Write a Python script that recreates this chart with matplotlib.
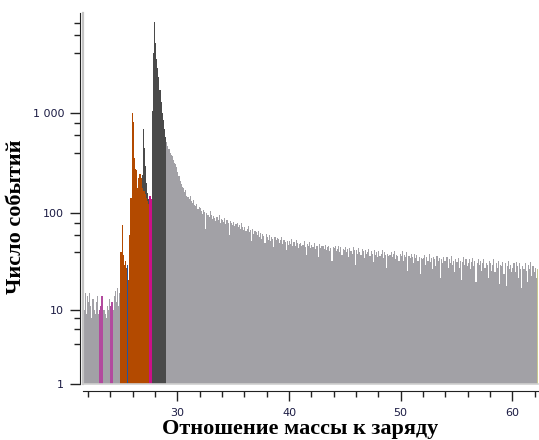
import numpy as np
import matplotlib.pyplot as plt

# mass spectrum, bins of 0.1 starting at m/z 21.6
mz_start = 21.6
bin_width = 0.1
counts = [
    10, 15, 9, 14,                                         # 21.6 - 21.9
    12, 15, 11, 8, 13, 10, 9, 12, 14, 9,                   # 22
    10, 11, 14, 10, 10, 9, 8, 11, 10, 13,                  # 23
    11, 12, 10, 14, 16, 12, 17, 11, 15, 40,                # 24
    76, 38, 30, 33, 28, 30, 21, 60, 143, 1000,             # 25
    810, 360, 280, 268, 180, 228, 250, 228, 240, 690,      # 26
    450, 300, 200, 160, 140, 150, 140, 1050, 4000, 8100,   # 27
    5000, 3500, 2800, 2300, 1700, 1300, 1000, 850, 700, 580,  # 28
    520, 470, 440, 400, 380, 370, 340, 320, 310, 290,      # 29
    260, 235, 210, 195, 185, 178, 165, 170, 150, 145,      # 30
    140, 148, 132, 128, 135, 120, 118, 125, 110, 115,      # 31
    112, 105, 98, 108, 102, 70, 100, 95, 92, 104,          # 32
    96, 88, 94, 90, 84, 92, 86, 95, 80, 88,                # 33
    85, 82, 90, 78, 86, 80, 60, 84, 79, 76,                # 34
    82, 74, 78, 80, 72, 76, 70, 79, 73, 68,                # 35
    72, 66, 70, 74, 64, 68, 52, 70, 62, 66,                # 36
    64, 60, 66, 58, 63, 55, 61, 59, 50, 62,                # 37
    58, 54, 60, 52, 57, 55, 45, 58, 53, 56,                # 38
    55, 50, 53, 57, 49, 54, 51, 42, 52, 48,                # 39
    52, 49, 55, 47, 51, 46, 53, 50, 44, 49,                # 40
    50, 46, 48, 52, 45, 38, 49, 47, 51, 44,                # 41
    48, 45, 50, 43, 47, 46, 36, 49, 44, 46,                # 42
    46, 43, 48, 42, 45, 47, 41, 44, 33, 45,                # 43
    44, 47, 41, 43, 46, 40, 45, 38, 43, 42,                # 44
    45, 40, 43, 36, 44, 41, 39, 45, 42, 30,                # 45
    42, 39, 44, 40, 38, 43, 41, 35, 42, 39,                # 46
    40, 43, 37, 41, 39, 32, 42, 38, 40, 36,                # 47
    41, 37, 39, 42, 35, 40, 38, 28, 39, 37,                # 48
    38, 40, 36, 39, 41, 34, 38, 37, 33, 39,                # 49
    37, 41, 33, 38, 36, 40, 26, 37, 35, 39,                # 50
    36, 31, 39, 35, 38, 33, 36, 24, 35, 34,                # 51
    35, 38, 30, 36, 33, 39, 32, 35, 27, 36,                # 52
    34, 29, 37, 33, 35, 22, 34, 31, 36, 33,                # 53
    33, 36, 28, 34, 31, 37, 30, 33, 25, 34,                # 54
    32, 35, 28, 33, 21, 32, 36, 30, 34, 29,                # 55
    31, 34, 27, 32, 35, 29, 33, 20, 31, 34,                # 56
    30, 33, 26, 31, 34, 28, 31, 30, 22, 33,                # 57
    31, 26, 30, 34, 25, 31, 28, 33, 19, 30,                # 58
    29, 32, 24, 31, 18, 29, 33, 27, 30, 25,                # 59
    28, 31, 25, 32, 29, 22, 31, 27, 17, 29,                # 60
    27, 31, 26, 20, 30, 27, 32, 23, 29, 25,                # 61
    28, 22, 27,                                            # 62.0 - 62.2
]

# orange ion range has its own counts (24.9 - 27.4)
orange_start = 24.9
orange_counts = [40, 76, 38, 30, 33, 28, 30, 21, 60, 143, 1000, 810, 360,
                 280, 268, 180, 228, 250, 228, 180, 168, 168, 157, 143, 133, 123]

# ranges (m/z from, to) drawn with the total counts
dark_ranges = [(26.8, 27.5), (27.7, 29.0)]
blue_ranges = [(25.5, 25.6)]
magenta_ranges = [(23.0, 23.3), (24.0, 24.2)]
pink_ranges = [(27.5, 27.7)]
olive_ranges = [(62.2, 62.3)]

y_ticks = [1, 10, 100, 1000]
y_ticklabels = ['1', '10', '100', '1 000']
y_minor = [4, 6, 8, 40, 60, 80, 400, 600, 800, 4000, 6000, 8000]
x_ticks = [30, 40, 50, 60]
x_minor = [22, 24, 26, 28, 32, 34, 36, 38, 42, 44, 46, 48, 52, 54, 56, 58, 62]

counts = np.array(counts, dtype=float)
edges = mz_start + bin_width * np.arange(len(counts) + 1)


def idx(mz):
    return int(round((mz - mz_start) / bin_width))


def draw_ranges(ax, ranges, color):
    for a, b in ranges:
        i, j = idx(a), idx(b)
        ax.stairs(counts[i:j], edges[i:j + 1], fill=True, baseline=1,
                  color=color, lw=0)


fig = plt.figure(figsize=(5.39, 4.40), dpi=100)
ax = fig.add_axes([83 / 539, 56 / 440, 455 / 539, 371 / 440])
ax.set_yscale('function', functions=(lambda v: np.log10(1 + np.clip(v, 0, None)),
                                     lambda v: 10 ** v - 1))

ax.stairs(counts, edges, fill=True, baseline=1, color='#a2a1a6', lw=0)
draw_ranges(ax, dark_ranges, '#4a4a4a')
oi = idx(orange_start)
ax.stairs(orange_counts, edges[oi:oi + len(orange_counts) + 1], fill=True,
          baseline=1, color='#b34a00', lw=0)
draw_ranges(ax, blue_ranges, '#2055a0')
draw_ranges(ax, magenta_ranges, '#b24a9e')
draw_ranges(ax, pink_ranges, '#cc1088')
draw_ranges(ax, olive_ranges, '#c8c890')

ax.set_xlim(21.55, 62.3)
ax.set_ylim(1, 10000)

# light frame of the plot area
ax.plot([0, 0], [0, 1], transform=ax.transAxes, color='#c4c4c4', lw=1.6, clip_on=False)
ax.plot([0, 1], [0, 0], transform=ax.transAxes, color='#d0d0d0', lw=1.2, clip_on=False)

for s in ['top', 'right']:
    ax.spines[s].set_visible(False)
ax.spines['left'].set_position(('outward', 2.5))
ax.spines['bottom'].set_position(('outward', 5))
ax.spines['left'].set_color('#222222')
ax.spines['bottom'].set_color('#222222')

ax.set_yticks(y_ticks)
ax.set_yticklabels(y_ticklabels)
ax.set_yticks(y_minor, minor=True)
ax.set_xticks(x_ticks)
ax.set_xticks(x_minor, minor=True)
ax.tick_params(axis='both', which='major', length=7, width=1, color='#222222',
               labelsize=8, labelcolor='#1c1c44')
ax.tick_params(axis='y', which='minor', length=4, width=1, color='#222222')
ax.tick_params(axis='x', which='minor', length=4, width=1, color='#222222')
ax.tick_params(axis='x', which='major', pad=5)
ax.tick_params(axis='y', which='major', pad=4)

ax.set_xlabel('Отношение массы к заряду', fontsize=16, fontweight='bold',
              family='Liberation Serif', va='baseline')
ax.xaxis.set_label_coords(0.477, -50 / 371)
ax.set_ylabel('Число событий', fontsize=16, fontweight='bold',
              family='Liberation Serif', va='center')
ax.yaxis.set_label_coords(-66.5 / 455, 167 / 371)

fig.savefig('out.png', dpi=100)
